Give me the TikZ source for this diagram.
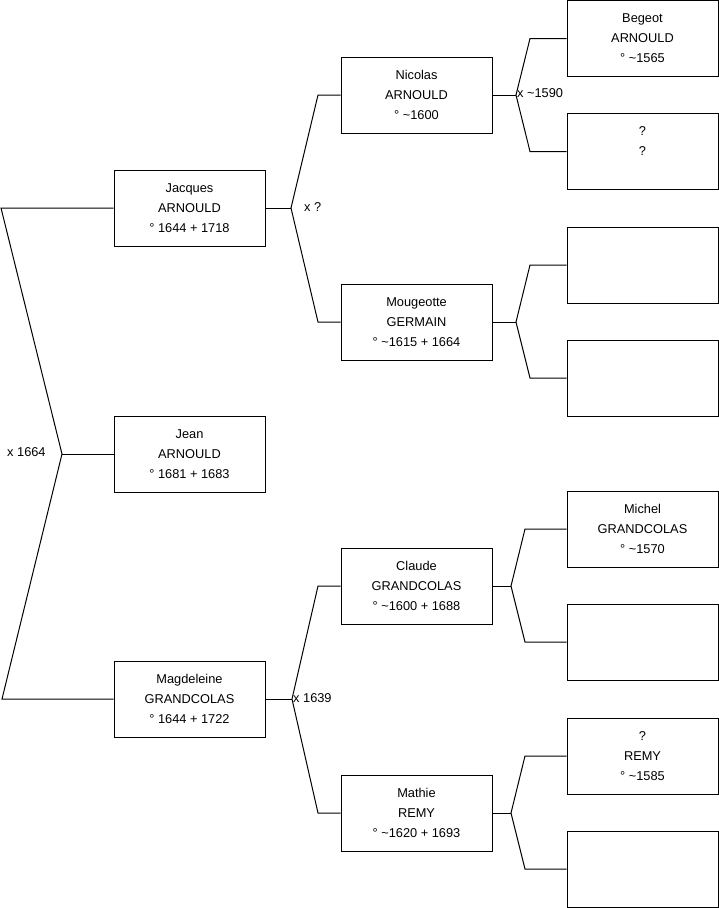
\documentclass[tikz,border=0pt]{standalone}
\usepackage{fontspec}
\setmainfont{Liberation Sans}
\begin{document}
\begin{tikzpicture}[x=1pt,y=-1pt,
  person/.style={draw=black, line width=1pt, minimum width=151pt, minimum height=76pt, inner sep=0pt, align=center, font=\fontsize{12.8}{20}\selectfont},
  mlabel/.style={anchor=west, inner sep=0pt, font=\fontsize{12.8}{15}\selectfont},
  link/.style={draw=black, line width=1pt}]
\useasboundingbox (0,0) rectangle (719,908);
% generation 1
\node[person] (jacques) at (189.5,208) {Jacques\\ARNOULD\\° 1644 + 1718};
\node[person] (jean) at (189.5,454) {Jean\\ARNOULD\\° 1681 + 1683};
\node[person] (magd) at (189.5,699) {Magdeleine\\GRANDCOLAS\\° 1644 + 1722};
% generation 2
\node[person] (nicolas) at (416.5,95) {Nicolas\\ARNOULD\\° \textasciitilde1600};
\node[person] (moug) at (416.5,322) {Mougeotte\\GERMAIN\\° \textasciitilde1615 + 1664};
\node[person] (claude) at (416.5,586) {Claude\\GRANDCOLAS\\° \textasciitilde1600 + 1688};
\node[person] (mathie) at (416.5,813) {Mathie\\REMY\\° \textasciitilde1620 + 1693};
% generation 3
\node[person] (begeot) at (642.5,38.5) {Begeot\\ARNOULD\\° \textasciitilde1565};
\node[person] (unk1) at (642.5,151.5) {?\\?\\\phantom{0}};
\node[person] (g3c) at (642.5,265) {};
\node[person] (g3d) at (642.5,378) {};
\node[person] (michel) at (642.5,529) {Michel\\GRANDCOLAS\\° \textasciitilde1570};
\node[person] (g3f) at (642.5,642) {};
\node[person] (remy) at (642.5,756) {?\\REMY\\° \textasciitilde1585};
\node[person] (g3h) at (642.5,869) {};
% fork points
\coordinate (f0) at (62,454); \coordinate (f0a) at (1,208); \coordinate (f0b) at (2,699);
\coordinate (f1) at (291,208); \coordinate (f1a) at (318,95); \coordinate (f1b) at (318,322);
\coordinate (f2) at (292,699); \coordinate (f2a) at (318,586); \coordinate (f2b) at (318,813);
\coordinate (f3) at (516,95); \coordinate (f3a) at (530,38.5); \coordinate (f3b) at (530,151.5);
\coordinate (f4) at (516,322); \coordinate (f4a) at (530,265); \coordinate (f4b) at (530,378);
\coordinate (f5) at (511,586); \coordinate (f5a) at (525,529); \coordinate (f5b) at (525,642);
\coordinate (f6) at (511,813); \coordinate (f6a) at (525,756); \coordinate (f6b) at (525,869);
% connectors
\draw[link] (jacques.west) -- (f0a) -- (f0) -- (f0b) -- (magd.west);
\draw[link] (f0) -- (jean.west);
\draw[link] (jacques.east) -- (f1);
\draw[link] (nicolas.west) -- (f1a) -- (f1) -- (f1b) -- (moug.west);
\draw[link] (magd.east) -- (f2);
\draw[link] (claude.west) -- (f2a) -- (f2) -- (f2b) -- (mathie.west);
\draw[link] (nicolas.east) -- (f3);
\draw[link] (begeot.west) -- (f3a) -- (f3) -- (f3b) -- (unk1.west);
\draw[link] (moug.east) -- (f4);
\draw[link] (g3c.west) -- (f4a) -- (f4) -- (f4b) -- (g3d.west);
\draw[link] (claude.east) -- (f5);
\draw[link] (michel.west) -- (f5a) -- (f5) -- (f5b) -- (g3f.west);
\draw[link] (mathie.east) -- (f6);
\draw[link] (remy.west) -- (f6a) -- (f6) -- (f6b) -- (g3h.west);
% marriage labels
\node[mlabel] (m0) at (7,452) {x 1664};
\node[mlabel] (m1) at (304,207) {x ?};
\node[mlabel] (m2) at (293,698) {x 1639};
\node[mlabel] (m3) at (517,93) {x \textasciitilde1590};
\end{tikzpicture}
\end{document}
